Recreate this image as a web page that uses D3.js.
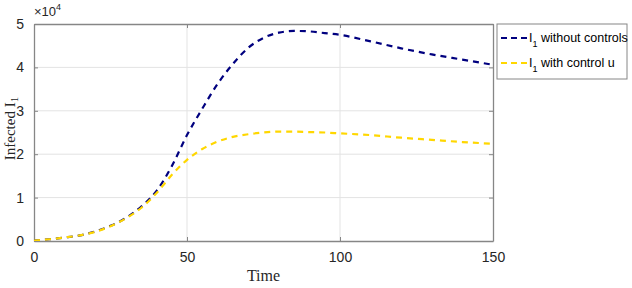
<!DOCTYPE html>
<html>
<head>
<meta charset="utf-8">
<script src="https://cdn.jsdelivr.net/npm/d3@7"></script>
<style>
  body { margin: 0; background: #fff; }
  svg { display: block; }
  .tick text { font-family: "Liberation Sans", Arial, sans-serif; font-size: 14px; fill: #262626; }
</style>
</head>
<body>
<div id="chart"></div>
<script>
// time points and infected counts (in units of 10^4)
const time = [0, 5, 10, 15, 20, 25, 30, 35, 40, 45, 50, 55, 60, 65, 70, 75, 80, 85, 90, 95, 100, 110, 120, 130, 140, 150];
const noControl = [0.01, 0.04, 0.08, 0.13, 0.22, 0.35, 0.53, 0.79, 1.15, 1.72, 2.44, 3.05, 3.62, 4.08, 4.45, 4.68, 4.80, 4.84, 4.83, 4.79, 4.75, 4.60, 4.44, 4.30, 4.18, 4.06];
const withControl = [0.01, 0.04, 0.08, 0.13, 0.21, 0.34, 0.52, 0.76, 1.10, 1.52, 1.87, 2.12, 2.29, 2.40, 2.46, 2.50, 2.52, 2.52, 2.51, 2.50, 2.48, 2.44, 2.38, 2.33, 2.28, 2.24];
const xTicks = [0, 50, 100, 150];
const yTicks = [0, 1, 2, 3, 4, 5];
const seriesNames = ["without controls", "with control u"];

const W = 632, H = 288;
const margin = { top: 24, right: 139, bottom: 47, left: 34 };
const width = W - margin.left - margin.right;
const height = H - margin.top - margin.bottom;

const svg = d3.select("#chart").append("svg")
    .attr("width", W)
    .attr("height", H);

const g = svg.append("g")
    .attr("transform", `translate(${margin.left},${margin.top})`);

const x = d3.scaleLinear().domain([0, 150]).range([0, width]);
const y = d3.scaleLinear().domain([0, 5]).range([height, 0]);

// grid
g.append("g").selectAll("line.vg")
    .data(xTicks.slice(1, -1))
    .enter().append("line")
    .attr("x1", d => x(d)).attr("x2", d => x(d))
    .attr("y1", 0).attr("y2", height)
    .attr("stroke", "#e3e3e3").attr("stroke-width", 1);

g.append("g").selectAll("line.hg")
    .data(yTicks.slice(1, -1))
    .enter().append("line")
    .attr("x1", 0).attr("x2", width)
    .attr("y1", d => y(d)).attr("y2", d => y(d))
    .attr("stroke", "#e3e3e3").attr("stroke-width", 1);

// axes
const xAxis = g.append("g")
    .attr("transform", `translate(0,${height})`)
    .call(d3.axisBottom(x).tickValues(xTicks).tickSizeInner(-4).tickSizeOuter(0).tickPadding(11).tickFormat(d3.format("d")));
const yAxis = g.append("g")
    .call(d3.axisLeft(y).tickValues(yTicks).tickSizeInner(-4).tickSizeOuter(0).tickPadding(10).tickFormat(d3.format("d")));
// top/right ticks
const xAxisTop = g.append("g")
    .call(d3.axisTop(x).tickValues(xTicks).tickSizeInner(-4).tickSizeOuter(0).tickFormat(""));
const yAxisRight = g.append("g")
    .attr("transform", `translate(${width},0)`)
    .call(d3.axisRight(y).tickValues(yTicks).tickSizeInner(-4).tickSizeOuter(0).tickFormat(""));

[xAxis, yAxis, xAxisTop, yAxisRight].forEach(a => {
    a.selectAll("path.domain").attr("stroke", "#868686").attr("stroke-width", 1.3);
    a.selectAll(".tick line").attr("stroke", "#868686");
});

// lines
const line = d3.line()
    .x((d, i) => x(time[i]))
    .y(d => y(d))
    .curve(d3.curveMonotoneX);

const colors = ["#00007f", "#ffd700"];
const data = [noControl, withControl];

g.append("defs").append("clipPath").attr("id", "clip")
    .append("rect").attr("width", width).attr("height", height);

g.append("g").attr("clip-path", "url(#clip)")
    .selectAll("path.series")
    .data(data)
    .enter().append("path")
    .attr("class", "series")
    .attr("d", line)
    .attr("fill", "none")
    .attr("stroke", (d, i) => colors[i])
    .attr("stroke-width", 2.2)
    .attr("stroke-dasharray", "6,5");

// exponent label
const expo = svg.append("text")
    .attr("x", margin.left)
    .attr("y", 16)
    .style("font-family", "Liberation Sans, Arial, sans-serif")
    .style("font-size", "13px")
    .attr("fill", "#262626");
expo.append("tspan").text("\u00d710");
expo.append("tspan").attr("dy", -6).style("font-size", "9px").text("4");

// axis titles
svg.append("text")
    .attr("x", margin.left + x(75))
    .attr("y", 281)
    .attr("text-anchor", "middle")
    .style("font-family", "Liberation Serif, DejaVu Serif, serif")
    .style("font-size", "16px")
    .attr("fill", "#262626")
    .text("Time");

const yl = svg.append("text")
    .attr("transform", `translate(15,${margin.top + height / 2 - 4}) rotate(-90)`)
    .attr("text-anchor", "middle")
    .style("font-family", "Liberation Serif, DejaVu Serif, serif")
    .style("font-size", "15px")
    .attr("fill", "#262626");
yl.append("tspan").text("Infected I");
yl.append("tspan").attr("dy", 3).style("font-size", "11px").text("1");

// legend
const leg = svg.append("g").attr("transform", "translate(497,24)");
leg.append("rect")
    .attr("width", 130).attr("height", 55)
    .attr("fill", "#fff").attr("stroke", "#868686").attr("stroke-width", 1);

const items = leg.selectAll("g.item")
    .data(seriesNames)
    .enter().append("g")
    .attr("transform", (d, i) => `translate(0,${14 + i * 25})`);

items.append("line")
    .attr("x1", 4).attr("x2", 30)
    .attr("stroke", (d, i) => colors[i])
    .attr("stroke-width", 2)
    .attr("stroke-dasharray", "6,4");

const lt = items.append("text")
    .attr("x", 32).attr("y", 4)
    .style("font-family", "Liberation Sans, Arial, sans-serif")
    .style("font-size", "12.5px")
    .attr("fill", "#000");
lt.append("tspan").text("I");
lt.append("tspan").attr("dy", 5).style("font-size", "9px").text("1");
lt.append("tspan").attr("dy", -5).text(d => " " + d);
</script>
</body>
</html>
